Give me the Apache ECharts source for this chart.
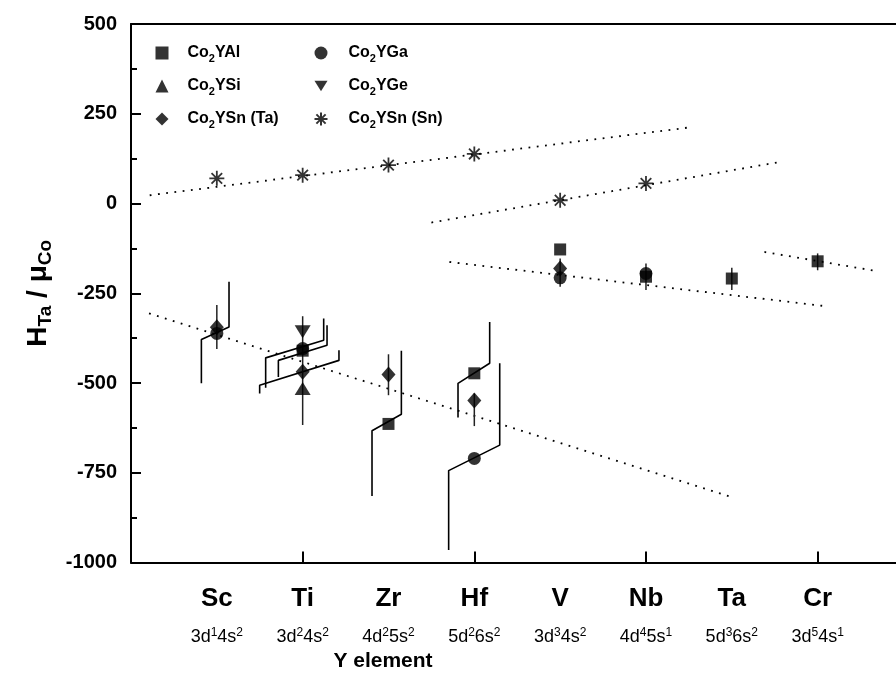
<!DOCTYPE html>
<html><head><meta charset="utf-8">
<script src="https://cdn.jsdelivr.net/npm/echarts@6/dist/echarts.min.js"></script>
<style>html,body{margin:0;padding:0;background:#fff}#c{width:896px;height:679px}</style>
</head><body><div id="c"></div>
<script>
// ---- categories (Y element) and electron configurations ----
const elements = ['Sc', 'Ti', 'Zr', 'Hf', 'V', 'Nb', 'Ta', 'Cr'];
const configs = [
  ['3d', '1', '4s', '2'], ['3d', '2', '4s', '2'], ['4d', '2', '5s', '2'], ['5d', '2', '6s', '2'],
  ['3d', '3', '4s', '2'], ['4d', '4', '5s', '1'], ['5d', '3', '6s', '2'], ['3d', '5', '4s', '1']
];
const xTickValues = [2, 4, 6, 8];
const labelPositions = [1, 2, 3, 4, 5, 6, 7, 8];

// ---- series values: [element position, H_Ta/mu_Co] ----
const coYAl   = [[2, -410], [3, -614], [4, -473], [5, -128], [6, -204], [7, -209], [8, -161]];
const coYGa   = [[1, -362], [2, -404], [4, -710], [5, -207], [6, -195]];
const coYSi   = [[2, -515]];
const coYGe   = [[2, -357]];
const coYSnTa = [[1, -345], [2, -469], [3, -476], [4, -549], [5, -181]];
const coYSnSn = [[1, 70], [2, 79], [3, 107], [4, 138], [5, 9], [6, 56]];

// error bars: [position, top, bottom]
const errorBars = [[1, -283, -405], [2, -314, -617], [3, -420, -534], [4, -529, -620],
                   [5, -153, -232], [6, -167, -241], [7, -179, -241], [8, -139, -186]];

// step-shaped range lines
const stepSc  = [[0.820, -501], [0.820, -379], [1.142, -344], [1.142, -218]];
const stepTiA = [[1.569, -513], [1.569, -430], [2.245, -381], [2.245, -320]];
const stepTiB = [[1.717, -483], [1.717, -437], [2.284, -395], [2.284, -339]];
const stepTiC = [[1.499, -529], [1.499, -506], [2.423, -437], [2.423, -409]];
const stepZr  = [[2.808, -815], [2.808, -633], [3.150, -587], [3.150, -410]];
const stepHfA = [[3.810, -596], [3.810, -501], [4.179, -445], [4.179, -330]];
const stepHfB = [[3.701, -965], [3.701, -744], [4.296, -673], [4.296, -445]];

// dotted trend lines
const trendSn1 = [[0.218, 23], [6.51, 212]];
const trendSn2 = [[3.5, -53], [7.57, 116]];
const trendV   = [[3.71, -163], [8.06, -285]];
const trendCr  = [[7.38, -135], [8.68, -188]];
const trendLow = [[0.21, -306], [7.03, -820]];

const XMAX = 8.913;
const FONT = "'Liberation Sans', Arial, sans-serif";

const chart = echarts.init(document.getElementById('c'));

function stepSeries(d) {
  return { type: 'line', data: d, symbol: 'none', silent: true, z: 2,
    lineStyle: { color: '#000', width: 1.6 } };
}
function trendSeries(d) {
  return { type: 'line', data: d, symbol: 'none', silent: true, z: 1,
    lineStyle: { color: '#000', width: 1.8, type: [1.8, 6.5] } };
}
const ASTER = 'path://M0,-10L0,10M-10,0L10,0M-7.07,-7.07L7.07,7.07M-7.07,7.07L7.07,-7.07';
const INVTRI = 'path://M0,0L16,0L8,13Z';

const legendText = {
  fontSize: 16, fontWeight: 'bold', color: '#000', fontFamily: FONT, lineHeight: 22,
  padding: [0, 0, 0, 14],
  rich: { s: { fontSize: 11, fontWeight: 'bold', color: '#000', fontFamily: FONT, lineHeight: 10, verticalAlign: 'bottom' } }
};
const legendFmt = name => name.replace('2', '{s|2}');
const noAxis = { show: false };

const option = {
  animation: false,
  backgroundColor: '#fff',
  title: {
    text: 'Y element', left: 383, top: 651, textAlign: 'center', padding: 0,
    textStyle: { fontSize: 21, fontWeight: 'bold', color: '#000', fontFamily: FONT }
  },
  legend: [
    { data: ['Co2YAl', 'Co2YSi', 'Co2YSn (Ta)'], orient: 'vertical', left: 155.5, top: 42, padding: 0,
      itemWidth: 13, itemHeight: 13, itemGap: 11, formatter: legendFmt, textStyle: legendText, selectedMode: false },
    { data: ['Co2YGa', 'Co2YGe', 'Co2YSn (Sn)'], orient: 'vertical', left: 313.5, top: 42, padding: 0,
      itemWidth: 13, itemHeight: 13, itemGap: 11, formatter: legendFmt, textStyle: Object.assign({}, legendText, { padding: [0, 0, 0, 16] }), selectedMode: false }
  ],
  grid: { left: 131, top: 24, right: 0, bottom: 116.5, outerBoundsMode: 'none', containLabel: false },
  xAxis: [
    { type: 'value', min: 0, max: XMAX, position: 'bottom',
      axisLine: { show: true, onZero: false, lineStyle: { color: '#000', width: 2 } },
      axisTick: { show: true, inside: true, length: 11, customValues: xTickValues, lineStyle: { color: '#000', width: 2 } },
      axisLabel: { show: false }, splitLine: { show: false } },
    { type: 'value', min: 0, max: XMAX, position: 'bottom',
      axisLine: { show: false, onZero: false }, axisTick: noAxis, splitLine: noAxis,
      axisLabel: { show: true, customValues: labelPositions, margin: 23,
        formatter: v => elements[Math.round(v) - 1] || '',
        fontSize: 26, fontWeight: 'bold', color: '#000', fontFamily: FONT } },
    { type: 'value', min: 0, max: XMAX, position: 'bottom',
      axisLine: { show: false, onZero: false }, axisTick: noAxis, splitLine: noAxis,
      axisLabel: { show: true, customValues: labelPositions, margin: 64,
        formatter: v => { const c = configs[Math.round(v) - 1]; return c ? `{n|${c[0]}}{p|${c[1]}}{n|${c[2]}}{p|${c[3]}}` : ''; },
        rich: {
          n: { fontSize: 18, color: '#000', fontFamily: FONT, lineHeight: 20, verticalAlign: 'bottom' },
          p: { fontSize: 12, color: '#000', fontFamily: FONT, lineHeight: 20, verticalAlign: 'top' }
        } } },
    { type: 'value', min: 0, max: XMAX, position: 'top',
      axisLine: { show: true, onZero: false, lineStyle: { color: '#000', width: 2 } },
      axisTick: noAxis, axisLabel: noAxis, splitLine: noAxis }
  ],
  yAxis: [
    { type: 'value', min: -1000, max: 500, interval: 250, position: 'left',
      axisLine: { show: true, onZero: false, lineStyle: { color: '#000', width: 2 } },
      axisTick: { show: true, inside: true, length: 10, lineStyle: { color: '#000', width: 2 } },
      axisLabel: { margin: 14, fontSize: 20, fontWeight: 'bold', color: '#000', fontFamily: FONT,
        formatter: v => String(v) },
      splitLine: noAxis,
      name: '{b|H}{s|Ta}{b| / μ}{s|Co}', nameLocation: 'middle', nameRotate: 90, nameGap: 76,
      nameTextStyle: {
        rich: {
          b: { fontSize: 28, fontWeight: 'bold', color: '#000', fontFamily: FONT, lineHeight: 34 },
          s: { fontSize: 19, fontWeight: 'bold', color: '#000', fontFamily: FONT, lineHeight: 17, verticalAlign: 'bottom' }
        }
      } },
    { type: 'value', min: -1000, max: 500, interval: 125, position: 'left', offset: 0,
      axisLine: { show: false, onZero: false },
      axisTick: { show: true, inside: true, length: 6, lineStyle: { color: '#000', width: 2 } },
      axisLabel: noAxis, splitLine: noAxis }
  ],
  series: [
    trendSeries(trendSn1), trendSeries(trendSn2), trendSeries(trendV), trendSeries(trendCr), trendSeries(trendLow),
    stepSeries(stepSc), stepSeries(stepTiA), stepSeries(stepTiB), stepSeries(stepTiC),
    stepSeries(stepZr), stepSeries(stepHfA), stepSeries(stepHfB),
    { type: 'custom', silent: true, z: 3, data: errorBars, encode: { x: 0, y: [1, 2] },
      renderItem: (params, api) => {
        const a = api.coord([api.value(0), api.value(1)]);
        const b = api.coord([api.value(0), api.value(2)]);
        return { type: 'line', shape: { x1: a[0], y1: a[1], x2: b[0], y2: b[1] },
          style: { stroke: '#222', lineWidth: 1.5 } };
      } },
    { name: 'Co2YGa', type: 'scatter', data: coYGa, symbol: 'circle', symbolSize: 13, z: 5,
      itemStyle: { color: '#000' } },
    { name: 'Co2YAl', type: 'scatter', data: coYAl, symbol: 'rect', symbolSize: 12, z: 4,
      itemStyle: { color: '#000' } },
    { name: 'Co2YSi', type: 'scatter', data: coYSi, symbol: 'triangle', symbolSize: [16, 13], z: 5,
      itemStyle: { color: '#000' } },
    { name: 'Co2YGe', type: 'scatter', data: coYGe, symbol: INVTRI, symbolSize: [16, 13], z: 5,
      itemStyle: { color: '#000' } },
    { name: 'Co2YSn (Ta)', type: 'scatter', data: coYSnTa, symbol: 'diamond', symbolSize: [14, 16], z: 6,
      itemStyle: { color: '#000' } },
    { name: 'Co2YSn (Sn)', type: 'scatter', data: coYSnSn, symbol: ASTER, symbolSize: 15, z: 5,
      itemStyle: { color: '#000', borderColor: '#000', borderWidth: 1.8 } }
  ]
};
chart.setOption(option);
</script>
</body></html>
